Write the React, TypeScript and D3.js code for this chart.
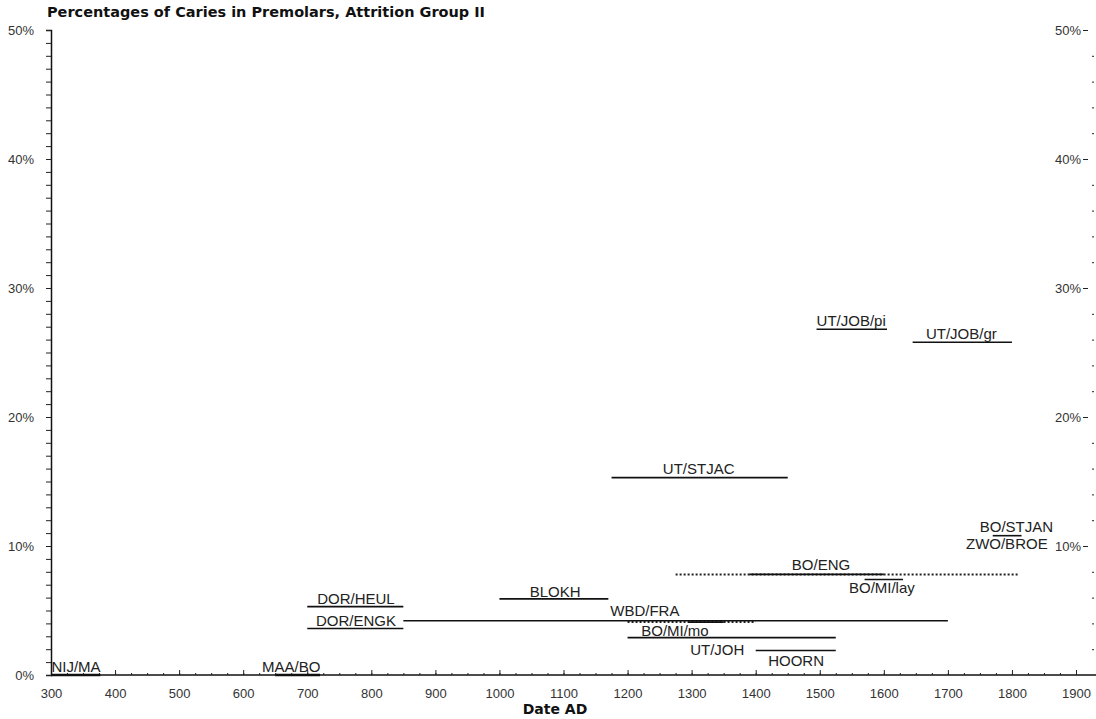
import React, { Component } from "react";
import { axisBottom, axisLeft, range, scaleLinear, select } from "d3";

const names = [
  "NIJ/MA", "MAA/BO", "DOR/HEUL", "DOR/ENGK", "WBD/FRA", "BLOKH", "UT/STJAC",
  "UT/JOB/pi", "UT/JOB/gr", "BO/ENG", "BO/MI/lay", "BO/MI/mo", "UT/JOH", "HOORN", "ZWO/BROE"
];
const dateFrom = [300, 650, 700, 700, 850, 1000, 1175, 1495, 1645, 1390, 1570, 1295, 1200, 1400, 1770];
const dateTo = [377, 720, 850, 850, 1700, 1170, 1450, 1605, 1800, 1600, 1630, 1350, 1525, 1525, 1815];
const caries = [0, 0, 5.3, 3.6, 4.2, 5.9, 15.3, 26.8, 25.8, 7.8, 7.4, 4.1, 2.9, 1.9, 10.8];

// dotted date ranges (uncertain dating)
const rangeNames = ["BO/ENG", "BO/MI/mo"];
const rangeFrom = [1275, 1200];
const rangeTo = [1810, 1400];
const rangeCaries = [7.8, 4.1];

// label anchors, in data units
const labelText = [
  "NIJ/MA", "MAA/BO", "DOR/HEUL", "DOR/ENGK", "WBD/FRA", "BLOKH", "UT/STJAC", "UT/JOB/pi",
  "UT/JOB/gr", "BO/ENG", "BO/MI/lay", "BO/MI/mo", "UT/JOH", "HOORN", "BO/STJAN", "ZWO/BROE"
];
const labelYear = [339, 675, 776, 776, 1227, 1087, 1311, 1549, 1721, 1502, 1597, 1274, 1340, 1463, 1807, 1792];
const labelPct = [0.25, 0.25, 5.5, 3.8, 4.57, 6.05, 15.6, 27.05, 26.05, 8.14, 6.36, 3.02, 1.55, 0.7, 11.09, 9.77];

const yearTicks = range(300, 2000, 100);
const pctTicks = [0, 10, 20, 30, 40, 50];

const WIDTH = 1096;
const HEIGHT = 719;
const FONT = "'Liberation Sans', Arial, sans-serif";
const BOLD_FONT = "'DejaVu Sans', Verdana, sans-serif";

class App extends Component {
  xAxisRef = React.createRef<SVGGElement>();
  xMinorRef = React.createRef<SVGGElement>();
  yAxisRef = React.createRef<SVGGElement>();
  yMinorRef = React.createRef<SVGGElement>();
  yRightRef = React.createRef<SVGGElement>();
  yRightMinorRef = React.createRef<SVGGElement>();

  x = scaleLinear().domain([300, 1900]).range([51, 1076]);
  y = scaleLinear().domain([0, 50]).range([675, 30]);

  componentDidMount() {
    const { x, y } = this;
    const style = (g: any) => {
      g.selectAll("text").attr("font-family", FONT).attr("font-size", 13).attr("fill", "#333");
      g.selectAll("line").attr("stroke", "#222");
    };

    select(this.xAxisRef.current)
      .attr("transform", `translate(0,${y(0)})`)
      .call(axisBottom(x).tickValues(yearTicks).tickSize(-5).tickPadding(14).tickFormat((d: any) => `${d}`))
      .call((g: any) => g.select(".domain").remove())
      .call(style);

    select(this.xMinorRef.current)
      .attr("transform", `translate(0,${y(0)})`)
      .call(axisBottom(x).tickValues(range(325, 1900, 25)).tickSize(-2).tickFormat(() => ""))
      .call((g: any) => g.select(".domain").remove())
      .call(style);

    select(this.yAxisRef.current)
      .attr("transform", `translate(${x(300)},0)`)
      .call(axisLeft(y).tickValues(pctTicks).tickSize(5).tickPadding(12).tickFormat((d: any) => `${d}%`))
      .call((g: any) => g.select(".domain").attr("stroke", "#111").attr("stroke-width", 1.5))
      .call(style);

    select(this.yMinorRef.current)
      .attr("transform", `translate(${x(300)},0)`)
      .call(axisLeft(y).tickValues(range(1, 50, 1)).tickSize(5).tickFormat(() => ""))
      .call((g: any) => g.select(".domain").remove())
      .call(style);

    select(this.yRightRef.current)
      .attr("transform", `translate(1088,0)`)
      .call(axisLeft(y).tickValues(pctTicks.slice(1)).tickSize(5).tickPadding(2).tickFormat((d: any) => `${d}%`))
      .call((g: any) => g.select(".domain").remove())
      .call(style);

    select(this.yRightMinorRef.current)
      .attr("transform", `translate(1094,0)`)
      .call(axisLeft(y).tickValues(range(2, 50, 2).filter(v => v % 10 !== 0)).tickSize(2).tickFormat(() => ""))
      .call((g: any) => g.select(".domain").remove())
      .call(style);
  }

  render() {
    const { x, y } = this;
    return (
      <div style={{ position: "absolute", left: 0, top: 0 }}>
        <svg width={WIDTH} height={HEIGHT} style={{ display: "block", background: "#fff" }}>
          <text
            x={47}
            y={17}
            fontFamily={BOLD_FONT}
            fontWeight="bold"
            fontSize={14}
            textLength={438}
            lengthAdjust="spacingAndGlyphs"
            fill="#111"
          >
            Percentages of Caries in Premolars, Attrition Group II
          </text>

          <line x1={x(300)} x2={WIDTH} y1={y(0)} y2={y(0)} stroke="#111" strokeWidth={1.5} />
          <g ref={this.xMinorRef} />
          <g ref={this.xAxisRef} />
          <g ref={this.yMinorRef} />
          <g ref={this.yAxisRef} />
          <g ref={this.yRightMinorRef} />
          <g ref={this.yRightRef} />

          <text
            x={555}
            y={714}
            textAnchor="middle"
            fontFamily={BOLD_FONT}
            fontWeight="bold"
            fontSize={14}
            fill="#111"
          >
            Date AD
          </text>

          {rangeNames.map((n, i) => (
            <line
              key={`r-${n}`}
              x1={x(rangeFrom[i])}
              x2={x(rangeTo[i])}
              y1={y(rangeCaries[i])}
              y2={y(rangeCaries[i])}
              stroke="#222"
              strokeWidth={2}
              strokeDasharray="2,2"
            />
          ))}

          {names.map((n, i) => (
            <line
              key={n}
              x1={x(dateFrom[i])}
              x2={x(dateTo[i])}
              y1={y(caries[i])}
              y2={y(caries[i])}
              stroke="#111"
              strokeWidth={caries[i] === 0 ? 2.5 : 1.6}
            />
          ))}

          {labelText.map((t, i) => (
            <text
              key={`l-${t}`}
              x={x(labelYear[i])}
              y={y(labelPct[i])}
              textAnchor="middle"
              fontFamily={FONT}
              fontSize={15}
              fill="#222"
            >
              {t}
            </text>
          ))}
        </svg>
      </div>
    );
  }
}

export default App;
